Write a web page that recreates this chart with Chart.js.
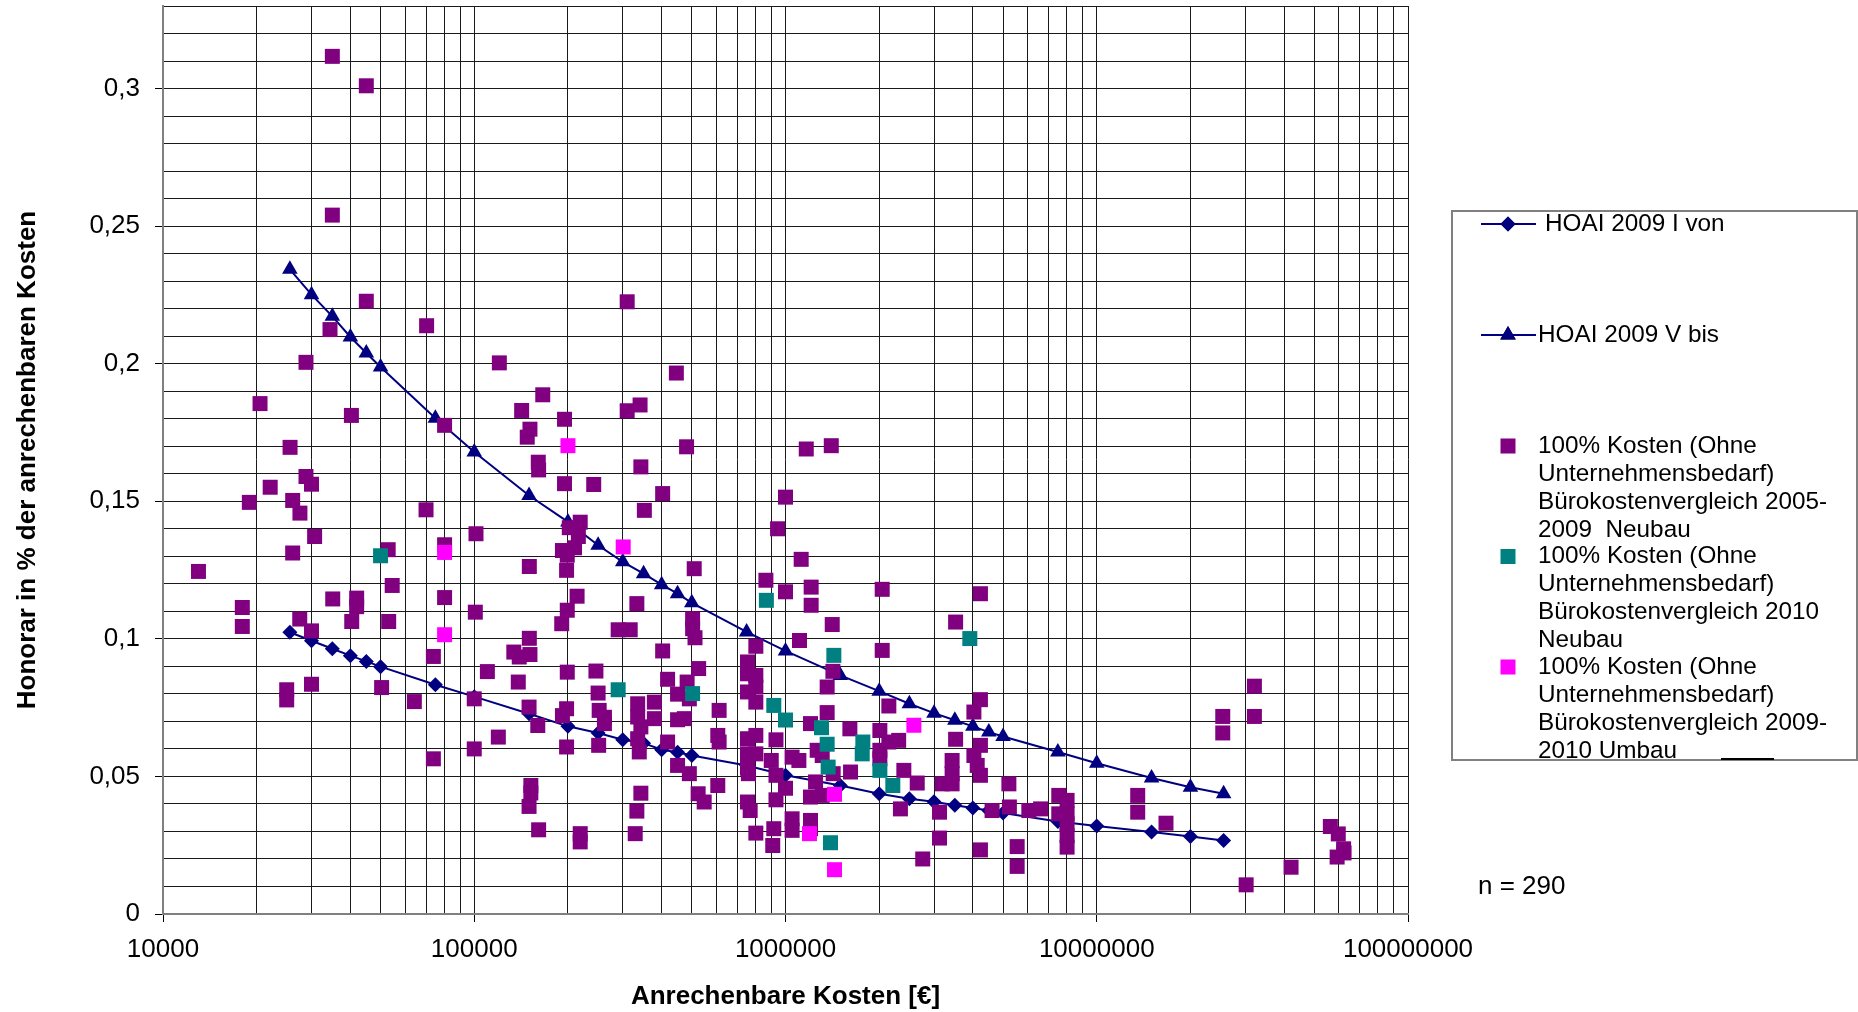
<!DOCTYPE html>
<html><head><meta charset="utf-8">
<script src="https://cdn.jsdelivr.net/npm/chart.js@4"></script>
<style>html,body{margin:0;padding:0;background:#fff}canvas{display:block}</style>
</head><body>
<canvas id="c" width="1858" height="1012"></canvas>
<script>
// ---- data ----
const hoaiX = [25565,30000,35000,40000,45000,50000,75000,100000,150000,200000,250000,300000,350000,400000,450000,500000,750000,1000000,1500000,2000000,2500000,3000000,3500000,4000000,4500000,5000000,7500000,10000000,15000000,20000000,25564594];
const hoaiVon = [0.1024,0.0993,0.0964,0.0939,0.0918,0.0899,0.0833,0.0790,0.0728,0.0682,0.0658,0.0633,0.0621,0.0597,0.0588,0.0576,0.0540,0.0504,0.0467,0.0437,0.0419,0.0408,0.0395,0.0385,0.0376,0.0367,0.0336,0.0320,0.0298,0.0282,0.0267];
const hoaiBis = [0.2343,0.2251,0.2172,0.2097,0.2039,0.1988,0.1802,0.1679,0.1521,0.1425,0.1340,0.1280,0.1237,0.1197,0.1164,0.1131,0.1025,0.0956,0.0867,0.0810,0.0764,0.0730,0.0704,0.0682,0.0661,0.0645,0.0589,0.0548,0.0494,0.0461,0.0437];

const neubau0509 = [
[35000,0.3117],[45000,0.301],[35000,0.254],[45000,0.2227],[34400,0.2124],[70300,0.2138],
[120400,0.2003],[28800,0.2005],[166000,0.1887],[20500,0.1855],[142000,0.183],[40300,0.1812],[80300,0.1776],[151000,0.1762],[148000,0.1733],[160600,0.1642],[161000,0.1614],[25600,0.1696],[28800,0.159],[30000,0.1562],[22100,0.1551],[18940,0.1496],[26100,0.1503],[27540,0.1457],[70000,0.1469],[101300,0.1382],[30700,0.1372],[52900,0.1324],[80300,0.1342],[26100,0.1312],[13000,0.1245],[150300,0.1263],[54500,0.1194],[100800,0.1097],[35100,0.1145],[41900,0.1148],[41900,0.1117],[40400,0.1063],[53100,0.1063],[80300,0.115],[17980,0.1114],[17980,0.1045],[27500,0.1072],[30000,0.1029],[150300,0.1002],
[73900,0.0936],[110200,0.0881],[24970,0.0815],[24970,0.0778],[30000,0.0835],[50400,0.0823],[64200,0.0772],[100000,0.0782],[119500,0.0643],[73900,0.0564],[100000,0.06],
[310000,0.2225],[446000,0.1966],[195000,0.1798],[310000,0.1829],[341000,0.185],[481000,0.1698],[1166000,0.169],[1403000,0.1702],
[343000,0.1625],[195000,0.1564],[242000,0.1561],[403000,0.1528],[352000,0.1467],[943000,0.140],[219000,0.1424],[202000,0.1404],[216000,0.1372],[192000,0.1321],[210000,0.1331],[199000,0.1304],[198000,0.1249],[509000,0.1255],[865000,0.1213],[214000,0.1155],[199000,0.1104],[191000,0.1055],[333000,0.1128],[503000,0.1073],[503000,0.1037],[512000,0.1004],[290000,0.1033],[317000,0.1033],[803000,0.0973],[134000,0.0952],[139500,0.0934],[151000,0.0943],[403000,0.0956],[199000,0.0879],[246000,0.0883],[138500,0.0843],[526000,0.0892],[418000,0.0853],[483000,0.0843],[450000,0.0799],[491000,0.0782],
[755000,0.0916],[755000,0.0873],[803000,0.0867],[803000,0.0825],[755000,0.0807],[803000,0.077],[150000,0.0752],[198000,0.0746],[192000,0.0721],[250000,0.0803],[252000,0.074],[262000,0.0715],[262000,0.0692],[335000,0.0764],[379000,0.077],[335000,0.0716],[379000,0.071],[343000,0.068],[335000,0.0637],[339000,0.0589],[450000,0.0706],[473000,0.071],[612000,0.074],[160000,0.0685],[198000,0.0607],[251000,0.0613],[418000,0.0625],[606000,0.0649],[612000,0.0625],[755000,0.0637],[803000,0.0649],[755000,0.0582],[803000,0.0582],[755000,0.053],[760000,0.051],[932000,0.0633],[900000,0.0558],[932000,0.0504],[450000,0.054],[491000,0.051],[606000,0.0467],[524000,0.0437],[548000,0.0407],[343000,0.0439],[333000,0.0374],[152000,0.0467],[152000,0.044],[150000,0.0391],[161000,0.0306],[219000,0.0292],[219000,0.0262],[329000,0.0292],[755000,0.0407],[770000,0.0376],[803000,0.0294],[917000,0.031],[910000,0.0249],[932000,0.0415],
[1000000,0.1515],[1123000,0.1289],[1000000,0.1171],[1209000,0.1188],[1209000,0.1122],[2045000,0.118],[4230000,0.1164],[1413000,0.1052],[3520000,0.1061],[1109000,0.0994],[2045000,0.0958],[1420000,0.0882],[1361000,0.0825],[2148000,0.0756],[4230000,0.0779],[4030000,0.0734],[1361000,0.0732],[1203000,0.0692],[1610000,0.0673],[2010000,0.0667],[3520000,0.0635],[2310000,0.0631],[2148000,0.0625],[4230000,0.0613],[2010000,0.0595],[2010000,0.0564],[1050000,0.057],[1104000,0.0558],[1264000,0.0595],[1312000,0.0576],[3430000,0.0558],[3430000,0.051],[3430000,0.0473],[4030000,0.0576],[4130000,0.054],[4230000,0.0504],[1423000,0.051],[1618000,0.0516],[2400000,0.0522],[2650000,0.0476],[3190000,0.0473],[5220000,0.0473],[1249000,0.048],[1000000,0.0457],[1203000,0.0425],[1312000,0.0431],[2340000,0.0382],[3125000,0.037],[4610000,0.0376],[5240000,0.0389],[6050000,0.0376],[6600000,0.0382],[7550000,0.0431],[8030000,0.0413],[7550000,0.0364],[8030000,0.0364],[8030000,0.0328],[8030000,0.0285],[8030000,0.0243],[1050000,0.0346],[1050000,0.0304],[1203000,0.034],[1203000,0.031],[3125000,0.0276],[4230000,0.0233],[2760000,0.02],[5550000,0.0245],[5550000,0.0173],
[32100000,0.0828],[25400000,0.0718],[25400000,0.0658],[32100000,0.0718],[13540000,0.0431],[13540000,0.037],[16690000,0.033],[56300000,0.0318],[59700000,0.0291],[62100000,0.0237],[59200000,0.0207],[62300000,0.0222],[42100000,0.017],[30200000,0.0106]
];
const neubau2010 = [[50000,0.1302],[868000,0.114],[290000,0.0815],[503000,0.0801],[917000,0.0758],[3910000,0.1001],[1430000,0.094],[1000000,0.0705],[1305000,0.0677],[1361000,0.0617],[1772000,0.0625],[1764000,0.0582],[1371000,0.0534],[2010000,0.0522],[2212000,0.0467],[1395000,0.0259]];
const umbau0910 = [[80300,0.1314],[80300,0.1015],[200000,0.1702],[301000,0.1334],[2585000,0.0686],[1437000,0.0435],[1194000,0.0292],[1437000,0.0161]];

const seriesNames = ['HOAI 2009 I von','HOAI 2009 V bis',
  '100% Kosten (Ohne Unternehmensbedarf) Bürokostenvergleich 2005-2009  Neubau',
  '100% Kosten (Ohne Unternehmensbedarf) Bürokostenvergleich 2010 Neubau',
  '100% Kosten (Ohne Unternehmensbedarf) Bürokostenvergleich 2009-2010 Umbau'];
const legendLines = [
  ['HOAI 2009 I von'],
  ['HOAI 2009 V bis'],
  ['100% Kosten (Ohne','Unternehmensbedarf)','Bürokostenvergleich 2005-','2009  Neubau'],
  ['100% Kosten (Ohne','Unternehmensbedarf)','Bürokostenvergleich 2010','Neubau'],
  ['100% Kosten (Ohne','Unternehmensbedarf)','Bürokostenvergleich 2009-','2010 Umbau']
];
const xDecades = [10000,100000,1000000,10000000,100000000];
const xDecadeLabels = ['10000','100000','1000000','10000000','100000000'];
const yMin = 0, yMax = 0.33, yLabelStep = 0.05;
const xTitle = 'Anrechenbare Kosten [€]';
const yTitle = 'Honorar in % der anrechenbaren Kosten';
const noteText = 'n = 290';

// ---- chart ----
const FONT = "'Liberation Sans', Arial, sans-serif";
const toXY = arr => arr.map(p => ({x: p[0], y: p[1]}));
const lineVon = hoaiX.map((x, i) => ({x, y: hoaiVon[i]}));
const lineBis = hoaiX.map((x, i) => ({x, y: hoaiBis[i]}));
const NAVY = '#000080', PURPLE = '#800080', TEAL = '#008080', MAGENTA = '#FF00FF';
const isLabelY = v => Math.round(v * 100) % Math.round(yLabelStep * 100) === 0;
const isDecade = v => xDecades.some(d => Math.abs(d - v) < 1e-6 * d);

const legendPlugin = {
  id: 'boxLegend',
  afterDraw(chart) {
    const ctx = chart.ctx;
    ctx.save();
    ctx.strokeStyle = '#808080';
    ctx.lineWidth = 2;
    ctx.strokeRect(1452, 211, 405, 549);
    ctx.font = '24.3px ' + FONT;
    ctx.fillStyle = '#000';
    ctx.textBaseline = 'middle';
    ctx.textAlign = 'left';
    const ds = chart.data.datasets;
    const items = [
      {d: 0, y: 224, tx: 1545},
      {d: 1, y: 335, tx: 1538},
      {d: 2, y: 446, tx: 1538},
      {d: 3, y: 556.5, tx: 1538},
      {d: 4, y: 667, tx: 1538}
    ];
    items.forEach(it => {
      const d = ds[it.d];
      if (d.showLine) {
        ctx.strokeStyle = d.borderColor;
        ctx.lineWidth = 2;
        ctx.beginPath(); ctx.moveTo(1481, it.y); ctx.lineTo(1536, it.y); ctx.stroke();
        Chart.helpers.drawPoint(ctx, {pointStyle: d.pointStyle, rotation: 0, radius: d.pointRadius, borderWidth: 0}, 1508, it.y);
        ctx.fillStyle = d.pointBackgroundColor;
        ctx.fill();
      } else {
        ctx.fillStyle = d.pointBackgroundColor;
        ctx.fillRect(1508 - 7.5, it.y - 7.5, 15, 15);
      }
      ctx.fillStyle = '#000';
      legendLines[it.d].forEach((t, k) => ctx.fillText(t, it.tx, it.y + k * 28));
    });
    // small dark segment on the lower border
    ctx.strokeStyle = '#000';
    ctx.lineWidth = 2;
    ctx.beginPath(); ctx.moveTo(1721, 759); ctx.lineTo(1774, 759); ctx.stroke();
    // sample size note
    ctx.font = '26px ' + FONT;
    ctx.fillStyle = '#000';
    ctx.fillText(noteText, 1478, 887);
    ctx.restore();
  }
};

new Chart(document.getElementById('c'), {
  type: 'scatter',
  data: {
    datasets: [
      {label: seriesNames[0], data: lineVon, showLine: true, borderColor: NAVY, borderWidth: 2,
       pointStyle: 'rectRot', pointRadius: 7.5, pointBackgroundColor: NAVY, pointBorderColor: NAVY, pointBorderWidth: 0, order: 4, tension: 0},
      {label: seriesNames[1], data: lineBis, showLine: true, borderColor: NAVY, borderWidth: 2,
       pointStyle: 'triangle', pointRadius: 9, pointBackgroundColor: NAVY, pointBorderColor: NAVY, pointBorderWidth: 0, order: 3, tension: 0},
      {label: seriesNames[2], data: toXY(neubau0509), showLine: false,
       pointStyle: 'rect', pointRadius: 10.6, pointBackgroundColor: PURPLE, pointBorderColor: PURPLE, pointBorderWidth: 0, order: 2},
      {label: seriesNames[3], data: toXY(neubau2010), showLine: false,
       pointStyle: 'rect', pointRadius: 10.6, pointBackgroundColor: TEAL, pointBorderColor: TEAL, pointBorderWidth: 0, order: 1},
      {label: seriesNames[4], data: toXY(umbau0910), showLine: false,
       pointStyle: 'rect', pointRadius: 10.6, pointBackgroundColor: MAGENTA, pointBorderColor: MAGENTA, pointBorderWidth: 0, order: 0}
    ]
  },
  options: {
    responsive: false,
    animation: false,
    events: [],
    layout: {autoPadding: false, padding: {left: 0, top: 6, right: 450, bottom: 0}},
    plugins: {legend: {display: false}, tooltip: {enabled: false}},
    scales: {
      x: {
        type: 'logarithmic', min: xDecades[0], max: xDecades[xDecades.length - 1],
        afterBuildTicks: s => {
          const t = [];
          for (let i = 0; i < xDecades.length - 1; i++) {
            for (let m = 1; m <= 9; m++) t.push({value: xDecades[i] * m});
          }
          t.push({value: xDecades[xDecades.length - 1]});
          s.ticks = t;
        },
        afterFit: s => { s.height = 98; },
        ticks: {
          autoSkip: false, minRotation: 0, maxRotation: 0, padding: 12,
          color: '#000', font: {family: FONT, size: 26},
          callback: v => { const i = xDecades.findIndex(d => Math.abs(d - v) < 1e-6 * d); return i >= 0 ? xDecadeLabels[i] : ''; }
        },
        grid: {color: '#1a1a1a', lineWidth: 1, drawTicks: true, tickLength: 8,
               tickColor: c => (c.tick && isDecade(c.tick.value)) ? '#000' : 'rgba(0,0,0,0)'},
        border: {color: '#808080', width: 2},
        title: {display: true, text: xTitle, color: '#000', font: {family: FONT, size: 26, weight: 'bold'}, padding: {top: 0, bottom: 0}}
      },
      y: {
        type: 'linear', min: yMin, max: yMax,
        afterBuildTicks: s => {
          const t = [];
          for (let i = 0; i <= Math.round(yMax * 100); i++) t.push({value: i / 100});
          s.ticks = t;
        },
        afterFit: s => { s.width = 163; s.paddingTop = 0; s.paddingBottom = 0; },
        ticks: {
          autoSkip: false, padding: 15, color: '#000', font: {family: FONT, size: 26},
          callback: v => isLabelY(v) ? String(Math.round(v * 100) / 100).replace('.', ',') : ''
        },
        grid: {color: '#1a1a1a', lineWidth: 1, drawTicks: true, tickLength: 8,
               tickColor: c => (c.tick && isLabelY(c.tick.value)) ? '#000' : 'rgba(0,0,0,0)'},
        border: {color: '#808080', width: 2},
        title: {display: true, text: yTitle, color: '#000', font: {family: FONT, size: 26, weight: 'bold'}, padding: {top: 12, bottom: 0}}
      }
    }
  },
  plugins: [legendPlugin]
});
</script>
</body></html>
